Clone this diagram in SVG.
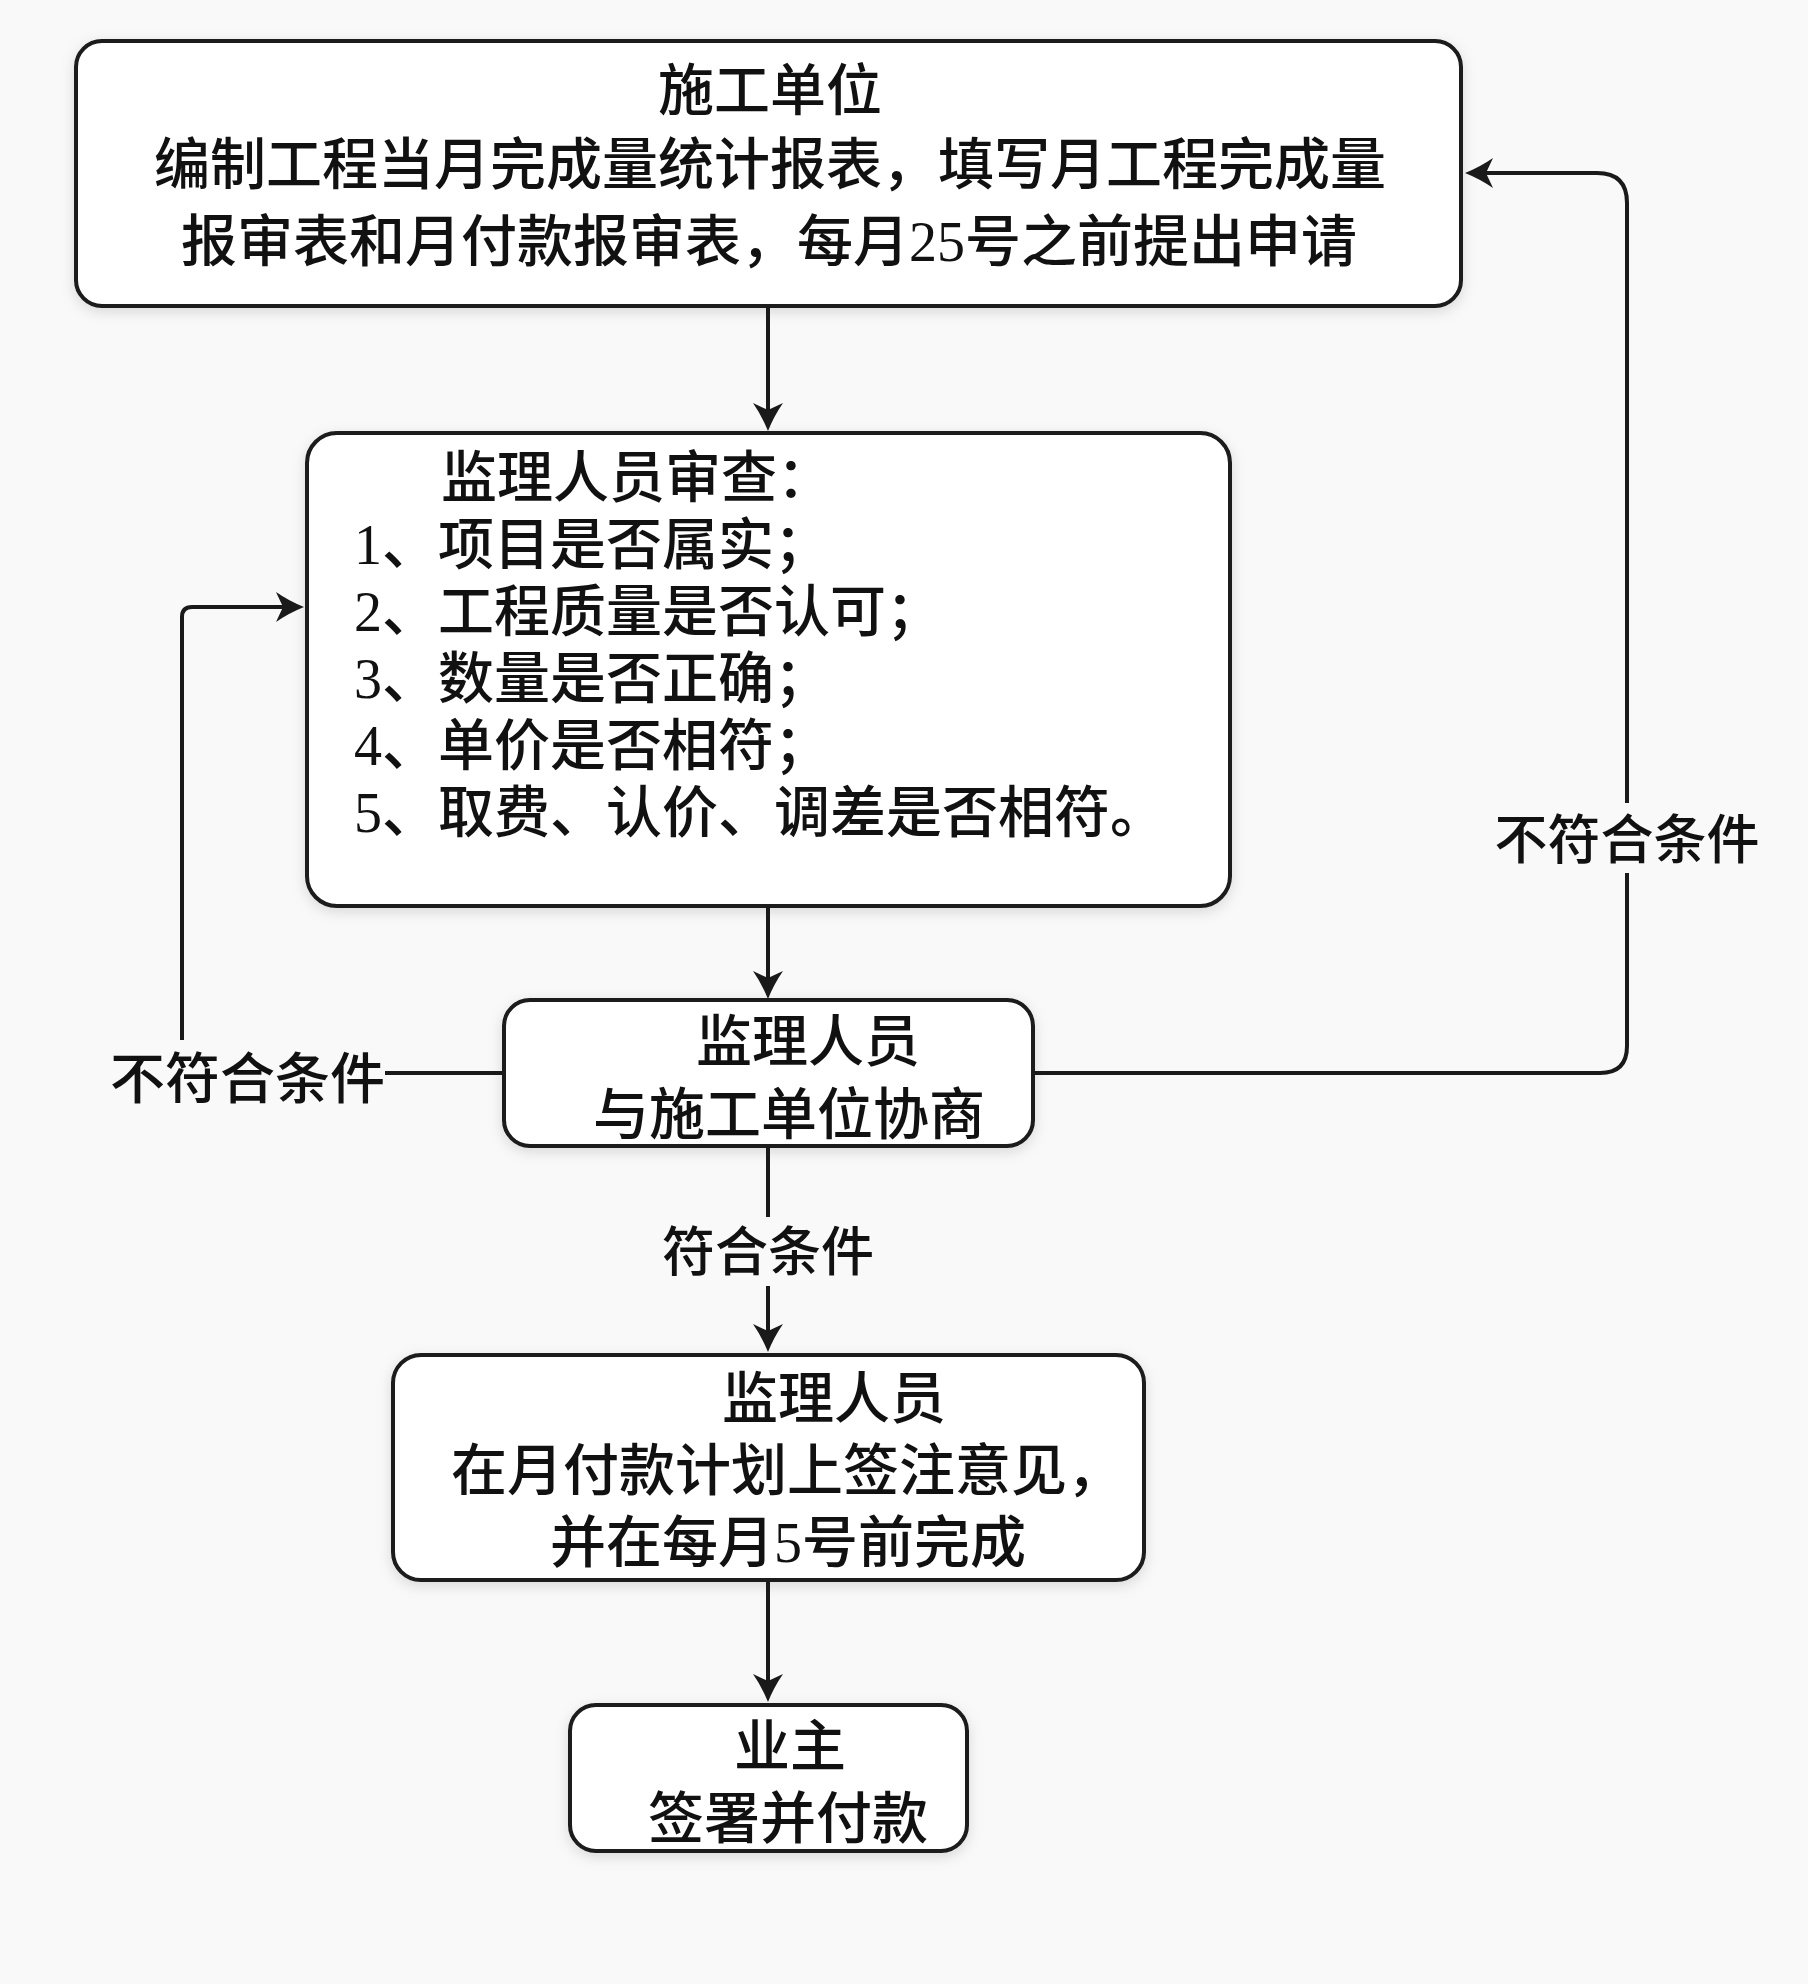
<svg xmlns="http://www.w3.org/2000/svg" width="1808" height="1984" viewBox="0 0 1808 1984">
<style>
.box{fill:#ffffff;stroke:#1a1a1a;stroke-width:4;filter:url(#sh)}
.t{font-family:"Liberation Serif","Noto Sans CJK SC",serif;font-size:56px;font-weight:500;fill:#111}
.lb{font-family:"Liberation Serif","Noto Sans CJK SC",serif;font-weight:500;fill:#111}
.c{fill:none;stroke:#1a1a1a;stroke-width:4}
.ca{fill:none;stroke:#1a1a1a;stroke-width:4;marker-end:url(#ah)}
.head{fill:#1a1a1a}
</style>
<defs>
<filter id="sh" x="-10%" y="-10%" width="120%" height="130%">
<feDropShadow dx="0" dy="4" stdDeviation="7" flood-color="#000" flood-opacity="0.13"/>
</filter>
<marker id="ah" viewBox="-20 -16 34 32" refX="0" refY="0" markerWidth="34" markerHeight="32" markerUnits="userSpaceOnUse" orient="auto">
<path d="M12,0 Q-3,-6 -16,-15 L-9,0 L-16,15 Q-3,6 12,0 Z" fill="#1a1a1a"/>
</marker>
</defs>
<rect width="1808" height="1984" fill="#f9f9f9"/>

<g id="node-contractor">
<rect class="box" x="76" y="41" width="1385" height="265" rx="26"/>
<text class="t" x="658" y="110">施工单位</text>
<text class="t" x="154" y="184">编制工程当月完成量统计报表，填写月工程完成量</text>
<text class="t" x="181" y="261">报审表和月付款报审表，每月25号之前提出申请</text>
</g>

<g id="node-review">
<rect class="box" x="307" y="433" width="923" height="473" rx="30"/>
<text class="t" x="441" y="497">监理人员审查：</text>
<text class="t" x="354" y="564">1、项目是否属实；</text>
<text class="t" x="354" y="631">2、工程质量是否认可；</text>
<text class="t" x="354" y="698">3、数量是否正确；</text>
<text class="t" x="354" y="765">4、单价是否相符；</text>
<text class="t" x="354" y="832">5、取费、认价、调差是否相符。</text>
</g>

<g id="node-negotiate">
<rect class="box" x="504" y="1000" width="529" height="146" rx="26"/>
<text class="t" x="696" y="1061">监理人员</text>
<text class="t" x="593" y="1134">与施工单位协商</text>
</g>

<g id="node-sign">
<rect class="box" x="393" y="1355" width="751" height="225" rx="28"/>
<text class="t" x="722" y="1418">监理人员</text>
<text class="t" x="451" y="1490">在月付款计划上签注意见，</text>
<text class="t" x="550" y="1562">并在每月5号前完成</text>
</g>

<g id="node-owner">
<rect class="box" x="570" y="1705" width="397" height="146" rx="26"/>
<text class="t" x="734" y="1766">业主</text>
<text class="t" x="648" y="1838">签署并付款</text>
</g>

<g id="connectors">
<path class="ca" d="M768,308 V419"/>
<path class="ca" d="M768,908 V987"/>
<path class="c" d="M768,1148 V1217"/>
<path class="ca" d="M768,1286 V1340"/>
<path class="ca" d="M768,1582 V1690"/>
<path class="c" d="M502,1073 H385"/>
<path class="ca" d="M182,1040 V617 Q182,607 192,607 H292"/>
<path class="c" d="M1035,1073 H1600 Q1627,1073 1627,1046 V873"/>
<path class="c" d="M1627,803 V203 Q1627,173 1597,173 H1476"/>
<path class="head" d="M1465,173 Q1480,167 1493,158 L1486,173 L1493,188 Q1480,179 1465,173 Z"/>
</g>

<g id="label-left">
<text class="lb" x="110" y="1098" font-size="55">不符合条件</text>
</g>
<g id="label-right">
<text class="lb" x="1627" y="859" font-size="53" text-anchor="middle">不符合条件</text>
</g>
<g id="label-mid">
<text class="lb" x="768" y="1271" font-size="53" text-anchor="middle">符合条件</text>
</g>
</svg>
